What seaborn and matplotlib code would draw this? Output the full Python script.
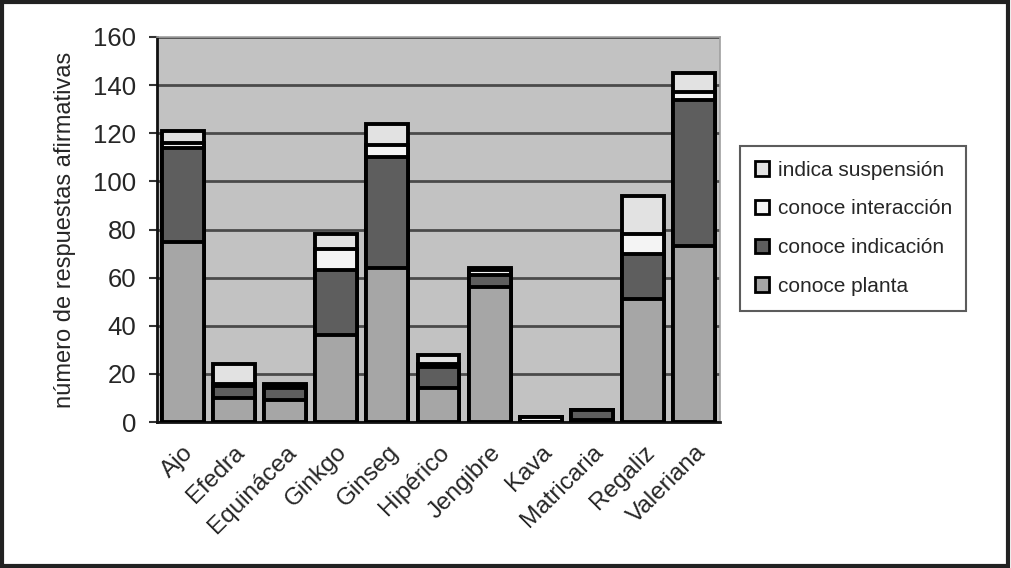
import matplotlib
matplotlib.use("Agg")
import matplotlib.pyplot as plt
import matplotlib.patches as mpatches
import seaborn as sns
import pandas as pd
import numpy as np

categories = ["Ajo", "Efedra", "Equinácea", "Ginkgo", "Ginseg", "Hipérico",
              "Jengibre", "Kava", "Matricaria", "Regaliz", "Valeriana"]
conoce_planta = [75, 10, 9, 36, 64, 14, 56, 0, 1, 51, 73]
conoce_indicacion = [39, 5, 5, 27, 46, 9, 5, 0, 4, 19, 61]
conoce_interaccion = [2, 1, 1, 9, 5, 1, 2, 2, 0, 8, 3]
indica_suspension = [5, 8, 1, 6, 9, 4, 1, 0, 0, 16, 8]

series_names = ["conoce planta", "conoce indicación", "conoce interacción", "indica suspensión"]
series_values = [conoce_planta, conoce_indicacion, conoce_interaccion, indica_suspension]
series_colors = ["#a6a6a6", "#5e5e5e", "#f4f4f4", "#e2e2e2"]

yticks = [0, 20, 40, 60, 80, 100, 120, 140, 160]

sns.set_theme(style="white")
plt.rcParams["font.family"] = ["Liberation Sans", "DejaVu Sans"]

fig = plt.figure(figsize=(10.11, 5.68), dpi=100)
ax = fig.add_axes([157 / 1011, 1 - 422 / 568, (720 - 157) / 1011, (422 - 37) / 568])
ax.set_facecolor("#c2c2c2")

# cumulative stacks, drawn from the tallest down so each layer overlaps the one above
cum = np.cumsum(np.array(series_values), axis=0)
for i in range(len(series_names) - 1, -1, -1):
    df = pd.DataFrame({"planta": categories, "valor": cum[i]})
    sns.barplot(data=df, x="planta", y="valor", ax=ax, color=series_colors[i],
                saturation=1, width=0.82, edgecolor="black", linewidth=2.8,
                zorder=3)

ax.set_ylim(0, 160)
ax.set_xlim(-0.5, len(categories) - 0.5)
ax.set_yticks(yticks)
ax.set_yticklabels([str(v) for v in yticks], fontsize=18.5)
ax.yaxis.grid(True, color="#4a4a4a", linewidth=2, zorder=0)
ax.set_axisbelow(True)

ax.set_xticks(range(len(categories)))
ax.set_xticklabels(categories, rotation=45, ha="right", rotation_mode="anchor", fontsize=17.5)
ax.set_xticks(np.arange(-0.5, len(categories), 1), minor=True)
ax.tick_params(axis="x", which="major", length=0, pad=14)
ax.tick_params(axis="x", which="minor", length=7, width=1.5, color="#333333", direction="out")
ax.tick_params(axis="y", which="major", length=6, width=1.5, color="#333333", direction="out", pad=9, left=True)

ax.set_xlabel("")
ax.set_ylabel("número de respuestas afirmativas", fontsize=17, labelpad=12)

for s in ["left", "bottom"]:
    ax.spines[s].set_color("#111111")
    ax.spines[s].set_linewidth(2)
for s in ["top", "right"]:
    ax.spines[s].set_color("#a0a0a0")
    ax.spines[s].set_linewidth(1.2)

handles = [mpatches.Patch(facecolor=series_colors[i], edgecolor="black", linewidth=2,
                          label=series_names[i]) for i in range(len(series_names) - 1, -1, -1)]
leg = fig.legend(handles=handles, loc="upper left", bbox_to_anchor=(740 / 1011, 1 - 146 / 568),
                 fontsize=15, frameon=True, fancybox=False, handlelength=0.7, handleheight=0.7,
                 handletextpad=0.4, labelspacing=0.95, borderpad=0.7, borderaxespad=0)
leg.get_frame().set_edgecolor("#333333")
leg.get_frame().set_linewidth(1.5)
leg.get_frame().set_facecolor("white")

fig.patches.append(mpatches.Rectangle((0.002, 0.003), 0.995, 0.993, transform=fig.transFigure,
                                      fill=False, edgecolor="#222222", linewidth=3))

fig.savefig("out.png", dpi=100, facecolor="white")
